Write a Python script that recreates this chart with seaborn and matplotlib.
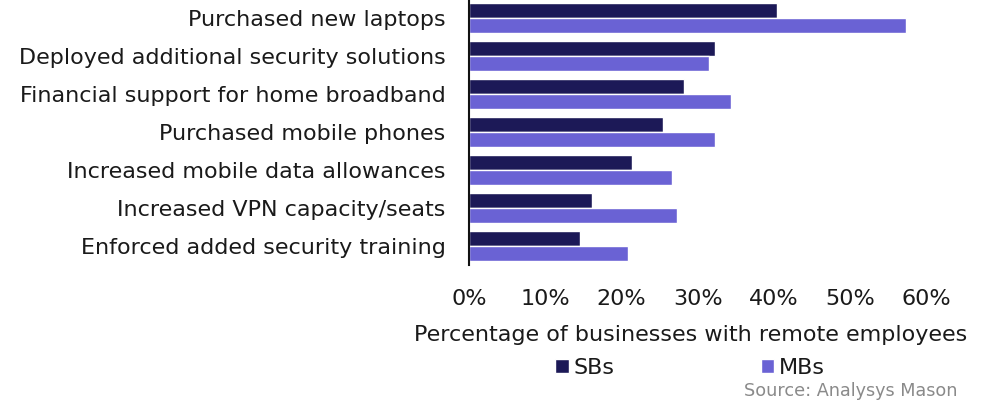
import matplotlib
matplotlib.use("Agg")
import matplotlib.pyplot as plt
import pandas as pd
import seaborn as sns
from matplotlib.ticker import PercentFormatter

actions = [
    "Purchased new laptops",
    "Deployed additional security solutions",
    "Financial support for home broadband",
    "Purchased mobile phones",
    "Increased mobile data allowances",
    "Increased VPN capacity/seats",
    "Enforced added security training",
]
sb_share = [40.4, 32.2, 28.2, 25.4, 21.4, 16.1, 14.6]
mb_share = [57.3, 31.5, 34.3, 32.2, 26.6, 27.3, 20.9]
groups = ["SBs", "MBs"]
colors = ["#1c1957", "#6a62d4"]
x_ticks = [0, 10, 20, 30, 40, 50, 60]

df = pd.DataFrame({
    "action": actions * 2,
    "share": sb_share + mb_share,
    "group": [groups[0]] * len(actions) + [groups[1]] * len(actions),
})

sns.set_theme(style="white")
plt.rcParams["font.family"] = ["DejaVu Sans"]
text_col = "#1a1a1a"
fs = 16

W, H = 990, 407
fig = plt.figure(figsize=(W / 100, H / 100), dpi=100)
ax = fig.add_axes([469 / W, 1 - 265 / H, (926.5 - 469) / W, 266 / H])

sns.barplot(data=df, y="action", x="share", hue="group", hue_order=groups,
            palette=colors, width=0.78, orient="h", ax=ax, saturation=1)

ax.set_xlim(0, 60)
ax.set_xticks(x_ticks)
ax.xaxis.set_major_formatter(PercentFormatter(decimals=0))
ax.tick_params(axis="x", length=0, pad=17, labelsize=fs, labelcolor=text_col)
ax.tick_params(axis="y", length=0, pad=17, labelsize=fs, labelcolor=text_col)
ax.set_ylabel("")
ax.set_xlabel("Percentage of businesses with remote employees", fontsize=fs, color=text_col)
ax.xaxis.label.set_va("center")
ax.xaxis.set_label_coords(0.485, -(335 - 265) / 266)

for s in ["top", "right", "bottom"]:
    ax.spines[s].set_visible(False)
ax.spines["left"].set_color("#111111")
ax.spines["left"].set_linewidth(1.5)

handles, labels = ax.get_legend_handles_labels()
ax.get_legend().remove()
fig.legend(handles, labels, loc="center", bbox_to_anchor=(690 / W, 1 - 368 / H),
           ncol=2, frameon=False, fontsize=fs, handlelength=0.6, handleheight=0.6,
           handletextpad=0.2, columnspacing=6.6, labelcolor=text_col)

fig.text(957 / W, 1 - 391 / H, "Source: Analysys Mason", ha="right", va="center",
         fontsize=12.7, color="#8a8a8a")

fig.savefig("out.png", dpi=100)
